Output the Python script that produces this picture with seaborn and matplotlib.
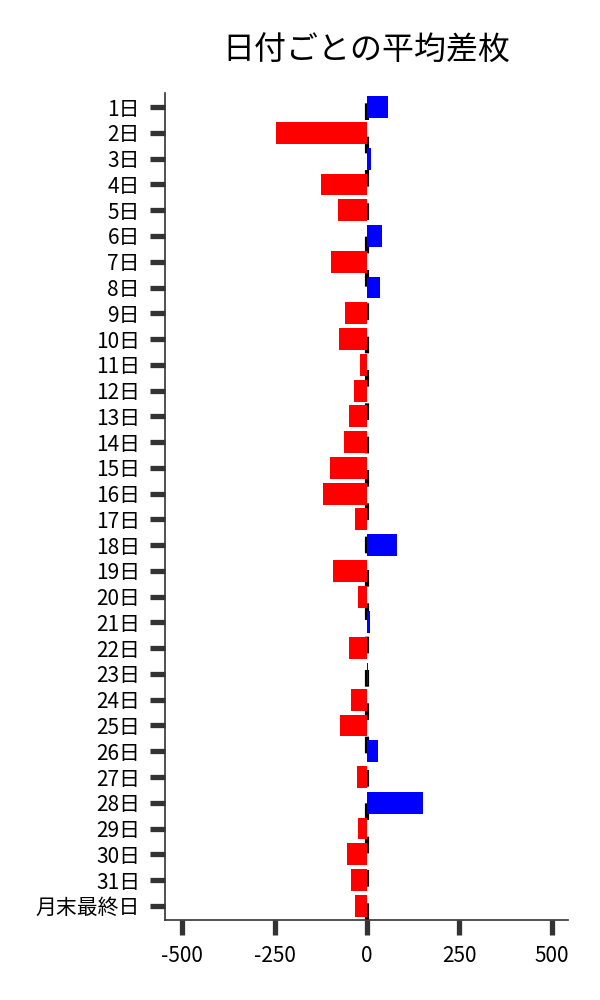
import matplotlib
matplotlib.use("Agg")
import matplotlib.pyplot as plt
import seaborn as sns
import pandas as pd

days = [f"{i}日" for i in range(1, 32)] + ["月末最終日"]
diffs = [56, -247, 10, -125, -79, 41, -98, 34, -60, -76,
         -19, -35, -49, -62, -100, -120, -33, 81, -92, -24,
         7, -49, 1.5, -43, -73, 29, -27, 152, -24, -54,
         -43, -33]

sns.set_style("ticks")
plt.rcParams['font.family'] = ['Noto Sans CJK JP', 'DejaVu Sans']
plt.rcParams['axes.unicode_minus'] = False

df = pd.DataFrame({"day": days, "diff": diffs})
df["sign"] = ["pos" if v >= 0 else "neg" for v in diffs]

fig = plt.figure(figsize=(6, 10), dpi=100)
ax = fig.add_axes([0.275, 0.08, 0.672, 0.827])

ax.axvline(0, color="black", lw=3, linestyle=(0, (4, 4)), zorder=0)
sns.barplot(data=df, x="diff", y="day", hue="sign", order=days,
            palette={"neg": "red", "pos": "blue"}, dodge=False,
            width=0.85, saturation=1, legend=False, orient="h",
            errorbar=None, linewidth=0, ax=ax, zorder=2)

ax.set_xlim(-547, 545)
ax.set_ylim(len(days) - 0.45, -0.55)
ax.set_xticks([-500, -250, 0, 250, 500])
ax.set_xlabel("")
ax.set_ylabel("")
ax.set_title("日付ごとの平均差枚", fontsize=23, pad=24, color="black")
ax.tick_params(axis="both", length=11, width=3.8, color="#333333",
               labelsize=15, pad=7, labelcolor="black")
sns.despine(ax=ax)
for s in ["left", "bottom"]:
    ax.spines[s].set_color("#333333")
    ax.spines[s].set_linewidth(1.2)

fig.savefig("out.png", dpi=100)
